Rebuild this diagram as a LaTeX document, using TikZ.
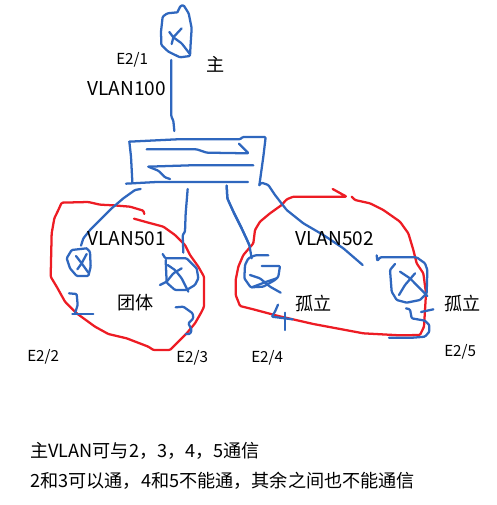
\documentclass[tikz,border=0pt]{standalone}
\usepackage{fontspec}
\setmainfont{Noto Sans CJK SC}
\tikzset{
 pen/.style={line width=1.7pt,line join=round,line cap=round,rounded corners=0.8pt},
 bluepen/.style={pen,draw={rgb,255:red,47;green,103;blue,190}},
 redpen/.style={pen,draw={rgb,255:red,237;green,28;blue,36}},
 lab/.style={inner sep=0pt,font=\fontsize{11.4pt}{13pt}\selectfont,text=black,xscale=1},
 big/.style={inner sep=0pt,font=\fontsize{14.3pt}{16pt}\selectfont,text=black},
 cjk/.style={inner sep=0pt,font=\fontsize{13.6pt}{16pt}\selectfont,text=black},
 zoomA/.style={shift={(90,0)},x=.25pt,y=-.25pt},
 zoomB/.style={shift={(20,180)},x=.25pt,y=-.25pt},
 zoomC/.style={shift={(220,180)},x=.25pt,y=-.25pt},
}
\begin{document}
\begin{tikzpicture}[x=.75pt,y=-.75pt]
\useasboundingbox (0,0) rectangle (496,505);
% top device and switch
\begin{scope}[zoomA]
\draw[bluepen] (262,37)--(272,17)--(281,16)--(296,40)--(305,85)--(302,130)--(300,168)--(270,172)--(235,155)--(214,135)--(213,95)--(218,50)--(232,40)--(262,37);
\draw[bluepen] (238,96)--(250,112)--(275,85);
\draw[bluepen] (250,112)--(245,132);
\draw[bluepen] (250,112)--(275,130)--(298,160);
\draw[bluepen] (244,180)--(244,350)--(250,362)--(253,393);
\draw[bluepen] (118,425)--(260,418)--(450,418)--(458,411)--(527,411)--(520,470)--(508,556);
\draw[bluepen] (118,425)--(123,470)--(127,545);
\draw[bluepen] (170,448)--(320,448)--(350,458)--(476,460)--(447,431);
\draw[bluepen] (175,500)--(300,496)--(490,496);
\draw[bluepen] (175,500)--(205,512)--(225,532)--(240,537);
\draw[bluepen] (108,551)--(200,546)--(474,546);
\end{scope}
% left group
\begin{scope}[zoomB]
\draw[redpen] (373,102)--(370,92)--(330,80)--(280,76)--(240,74)--(205,66)--(125,68)--(115,90)--(103,115)--(95,160)--(92,290)--(110,320)--(135,365)--(170,400)--(225,440)--(265,462)--(320,475)--(385,500)--(400,510)--(450,510)--(475,485)--(500,460)--(525,430)--(545,395)--(552,380)--(552,290)--(535,260)--(510,225)--(495,195)--(465,165)--(430,140)--(385,128)--(342,116);
\draw[bluepen] (362,27)--(345,30)--(310,55)--(275,85)--(245,115)--(210,150)--(190,175)--(183,197);
\draw[bluepen] (503,27)--(497,100)--(495,155)--(488,165)--(490,218);
\draw[bluepen] (620,17)--(622,55)--(640,95)--(665,145)--(688,195);
\draw[bluepen] (200,205)--(155,210)--(140,235)--(150,265)--(170,288)--(205,288)--(212,260)--(210,215)--(200,205);
\draw[bluepen] (168,228)--(185,250)--(200,222);
\draw[bluepen] (185,250)--(172,268);
\draw[bluepen] (185,250)--(205,278);
\draw[bluepen] (428,222)--(436,235)--(500,235)--(530,265)--(535,295)--(525,315)--(500,330)--(465,330)--(440,308)--(437,240);
\draw[bluepen] (443,255)--(465,270)--(485,295)--(505,335);
\draw[bluepen] (485,265)--(460,280)--(440,305)--(420,315);
\draw[bluepen] (147,340)--(170,342)--(173,375)--(165,400);
\draw[bluepen] (157,401)--(220,401);
\draw[bluepen] (467,382)--(490,380)--(518,400)--(520,415)--(505,430)--(515,450)--(510,462)--(497,462);
\end{scope}
% right group
\begin{scope}[zoomC]
\draw[redpen] (338,27)--(365,42)--(380,50)--(220,50)--(200,58)--(185,75)--(150,100)--(120,125)--(105,150)--(100,190)--(70,225)--(55,260)--(47,300)--(47,345)--(60,378)--(100,388)--(175,408)--(280,432)--(430,460)--(540,466)--(600,465)--(612,440)--(618,340)--(610,280)--(590,250)--(580,210)--(565,160)--(540,125)--(490,90)--(450,70)--(405,60)--(395,50);
\draw[bluepen] (20,17)--(22,55)--(40,95)--(65,145)--(88,195)--(95,235);
\draw[bluepen] (118,15)--(125,8)--(145,15)--(165,45)--(200,90)--(250,130)--(310,165)--(370,205)--(428,255);
\draw[bluepen] (145,226)--(105,226)--(85,235)--(75,255)--(73,295)--(92,322)--(130,320)--(165,300)--(175,290)--(180,258)--(125,258);
\draw[bluepen] (90,285)--(120,295)--(150,320)--(182,338);
\draw[bluepen] (95,322)--(140,305)--(170,295);
\draw[bluepen] (174,374)--(165,395)--(155,410)--(218,418);
\draw[bluepen] (195,398)--(195,450);
\draw[bluepen] (470,226)--(472,243)--(480,232)--(550,232)--(590,232)--(615,250)--(622,270)--(620,340)--(600,360)--(560,368)--(530,360)--(515,335)--(510,270)--(525,252);
\draw[bluepen] (537,345)--(555,315)--(585,280);
\draw[bluepen] (540,275)--(570,295)--(622,348);
\draw[bluepen] (558,385)--(570,388)--(575,415)--(615,422)--(628,435)--(628,455)--(615,470)--(580,473)--(507,473);
\draw[bluepen] (603,396)--(640,388);
\end{scope}
% labels
\node[lab,anchor=west] (e21) at (116,60) {E2/1};
\node[cjk,anchor=west] (zhu) at (206,64) {主};
\node[big,anchor=west] (v100) at (87,89) {VLAN100};
\node[big,anchor=west] (v501) at (87,239) {VLAN501};
\node[big,anchor=west] (v502) at (295,239) {VLAN502};
\node[cjk,anchor=west] (tt) at (117,303) {团体};
\node[cjk,anchor=west] (gl1) at (295,303) {孤立};
\node[cjk,anchor=west] (gl2) at (444,303) {孤立};
\node[lab,anchor=west] (e22) at (27,357) {E2/2};
\node[lab,anchor=west] (e23) at (176,358) {E2/3};
\node[lab,anchor=west] (e24) at (251,358) {E2/4};
\node[lab,anchor=west] (e25) at (444,352) {E2/5};
\node[cjk,anchor=west] (l1) at (30,451) {主VLAN可与2，3，4，5通信};
\node[cjk,anchor=west] (l2) at (30,481) {2和3可以通，4和5不能通，其余之间也不能通信};
\end{tikzpicture}
\end{document}
